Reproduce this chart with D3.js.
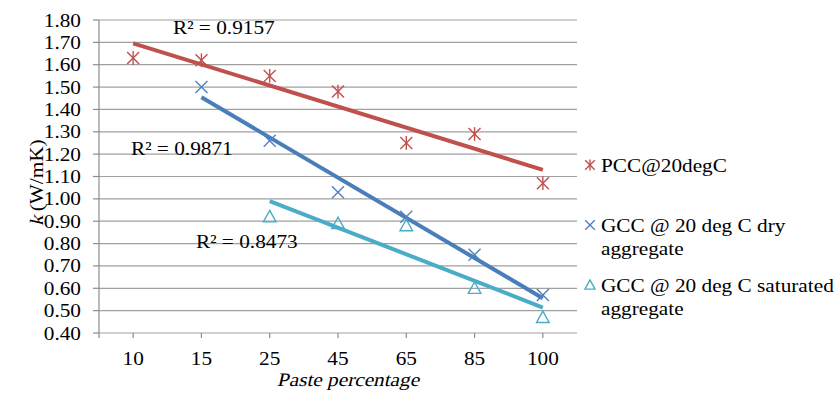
<!DOCTYPE html>
<html>
<head>
<meta charset="utf-8">
<script src="https://cdn.jsdelivr.net/npm/d3@7"></script>
<style>
  html, body { margin: 0; padding: 0; background: #fff; }
  svg { display: block; }
  text { font-family: "Liberation Serif", "Times New Roman", serif; fill: #000; }
</style>
</head>
<body>
<svg id="chart" width="839" height="400"></svg>
<script>
// Paste percentage categories
const categories = ["10", "15", "25", "45", "65", "85", "100"];

// Thermal conductivity k (W/mK) per category; null = not measured
const pccValues = [1.63, 1.62, 1.55, 1.48, 1.25, 1.29, 1.07];
const gccDryValues = [null, 1.50, 1.26, 1.03, 0.92, 0.75, 0.57];
const gccSatValues = [null, null, 0.92, 0.89, 0.88, 0.60, 0.47];

const seriesNames = ["PCC@20degC", "GCC @ 20 deg C dry|aggregate", "GCC @ 20 deg C saturated|aggregate"];
const r2Labels = ["R² = 0.9157", "R² = 0.9871", "R² = 0.8473"];

const yTicks = [0.40, 0.50, 0.60, 0.70, 0.80, 0.90, 1.00, 1.10, 1.20, 1.30, 1.40, 1.50, 1.60, 1.70, 1.80];

const svg = d3.select("#chart");
const plot = { left: 99, right: 577, top: 20, bottom: 333 };
const SX = 1.12;      // horizontal stretch of the lettering
const FS = 19;
const SLANT = "skewX(-13)";   // oblique lettering for the axis titles

const x = d3.scaleBand().domain(categories).range([plot.left, plot.right]).padding(0);
const cx = c => x(c) + x.bandwidth() / 2;
const y = d3.scaleLinear().domain([0.40, 1.80]).range([plot.bottom, plot.top]);

function label(g, px, py, str, anchor, extra) {
  const t = g.append("text")
    .attr("transform", `translate(${px},${py}) ${extra || ""} scale(${SX},1)`)
    .attr("text-anchor", anchor || "start")
    .style("font-size", FS + "px");
  if (str !== null) t.text(str);
  return t;
}

// Horizontal gridlines
svg.append("g").selectAll("line").data(yTicks).join("line")
  .attr("x1", plot.left).attr("x2", plot.right)
  .attr("y1", d => y(d)).attr("y2", d => y(d))
  .attr("stroke", "#a0a0a0").attr("stroke-width", 1.2);

// Y axis line and ticks
const axes = svg.append("g").attr("stroke", "#8c8c8c").attr("stroke-width", 1.2);
axes.append("line").attr("x1", plot.left).attr("x2", plot.left)
  .attr("y1", plot.top).attr("y2", plot.bottom + 5);
axes.selectAll("line.yt").data(yTicks).join("line").attr("class", "yt")
  .attr("x1", plot.left - 6).attr("x2", plot.left)
  .attr("y1", d => y(d)).attr("y2", d => y(d));
// X ticks at each category centre
axes.selectAll("line.xt").data(categories).join("line").attr("class", "xt")
  .attr("x1", d => cx(d)).attr("x2", d => cx(d))
  .attr("y1", plot.bottom).attr("y2", plot.bottom + 5);

// Tick labels
const tl = svg.append("g");
yTicks.forEach(v => label(tl, plot.left - 18, y(v) + 6.5, d3.format(".2f")(v), "end"));
categories.forEach(c => label(tl, cx(c), 365, c, "middle"));

// X axis title (slanted)
label(svg, 348, 386, "Paste percentage", "middle", SLANT);

// Y axis title: slanted "k" followed by upright unit, rotated as a group
const ylg = svg.append("g").attr("transform", "translate(43,180) rotate(-90)");
const kText = label(ylg, 0, 0, "k", "start", SLANT);
const unitText = label(ylg, 0, 0, " (W/mK)", "start").style("white-space", "pre");
const kw = kText.node().getComputedTextLength() * SX;
const uw = unitText.node().getComputedTextLength() * SX;
const startX = -(kw + uw + 4) / 2;
kText.attr("transform", `translate(${startX},0) ${SLANT} scale(${SX},1)`);
unitText.attr("transform", `translate(${startX + kw + 4},0) scale(${SX},1)`).text("(W/mK)");

// Series definitions
const series = [
  { values: pccValues, marker: "star", mColor: "#c0504d", lColor: "#c0504d" },
  { values: gccDryValues, marker: "cross", mColor: "#4f81bd", lColor: "#4a7ebb" },
  { values: gccSatValues, marker: "tri", mColor: "#4bacc6", lColor: "#4bacc6" }
];

// Linear trend fitted against the 1-based category position
function trend(values) {
  const pts = values.map((v, i) => [i + 1, v]).filter(p => p[1] !== null);
  const mx = d3.mean(pts, p => p[0]), my = d3.mean(pts, p => p[1]);
  const sxy = d3.sum(pts, p => (p[0] - mx) * (p[1] - my));
  const sxx = d3.sum(pts, p => (p[0] - mx) ** 2);
  const b = sxy / sxx, a = my - b * mx;
  const first = pts[0][0], last = pts[pts.length - 1][0];
  return [[first, a + b * first], [last, a + b * last]];
}

const line = d3.line().x(p => cx(categories[p[0] - 1])).y(p => y(p[1]));
series.forEach(s => {
  svg.append("path").attr("d", line(trend(s.values)))
    .attr("fill", "none").attr("stroke", s.lColor).attr("stroke-width", 4);
});

function drawMarker(g, kind, px, py, r, color) {
  const m = g.append("g").attr("transform", `translate(${px},${py})`)
    .attr("stroke", color).attr("stroke-width", 1.4).attr("fill", "none");
  if (kind === "star" || kind === "cross") {
    m.append("line").attr("x1", -r).attr("y1", -r).attr("x2", r).attr("y2", r);
    m.append("line").attr("x1", -r).attr("y1", r).attr("x2", r).attr("y2", -r);
  }
  if (kind === "star") {
    m.append("line").attr("x1", 0).attr("y1", -r * 1.15).attr("x2", 0).attr("y2", r * 1.15);
  }
  if (kind === "tri") {
    m.append("path").attr("d", `M0,${-r * 1.05}L${r * 1.05},${r * 0.85}L${-r * 1.05},${r * 0.85}Z`);
  }
}

// Data markers
series.forEach(s => {
  const g = svg.append("g");
  s.values.forEach((v, i) => {
    if (v !== null) drawMarker(g, s.marker, cx(categories[i]), y(v), 6, s.mColor);
  });
});

// R² annotations
const r2Pos = [[173, 34], [131, 155], [196, 248]];
r2Labels.forEach((t, i) => label(svg, r2Pos[i][0], r2Pos[i][1], t, "start"));

// Legend
const legendY = [165, 225, 285];
const lg = svg.append("g");
series.forEach((s, i) => {
  drawMarker(lg, s.marker, 590, legendY[i], 4.8, s.mColor);
  const lines = seriesNames[i].split("|");
  lines.forEach((ln, j) => label(lg, 601, legendY[i] + 7 + j * 23, ln, "start"));
});
</script>
</body>
</html>
